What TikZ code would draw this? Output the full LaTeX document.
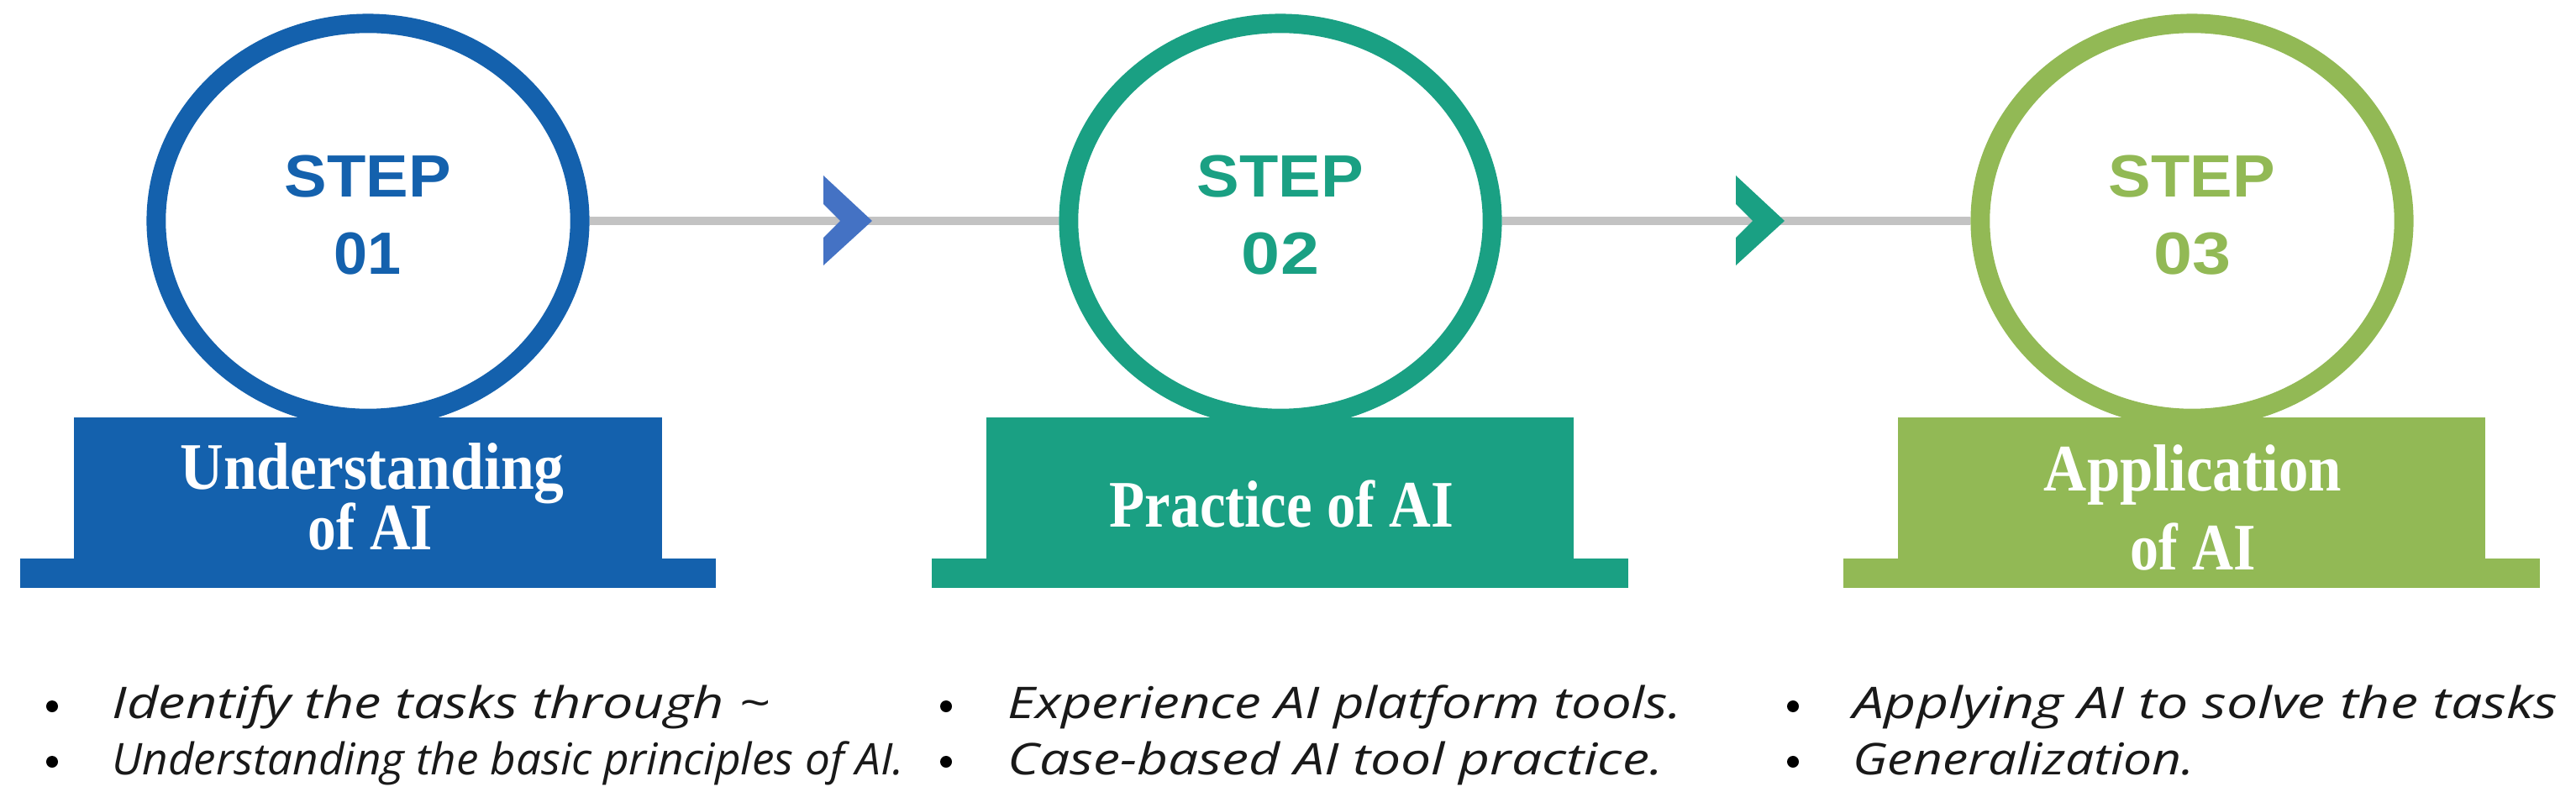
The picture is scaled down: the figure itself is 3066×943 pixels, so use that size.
\documentclass[tikz,border=0pt]{standalone}
\usepackage{fontspec}
\usepackage{graphicx}
\usetikzlibrary{shapes.geometric}
\setmainfont{Liberation Serif}
\newfontfamily\stepfont{Liberation Sans}
\newfontfamily\bulfont{Open Sans}
\definecolor{cblue}{HTML}{1461AD}
\definecolor{cteal}{HTML}{1AA083}
\definecolor{cgreen}{HTML}{92B955}
\definecolor{chevblue}{HTML}{4472C4}
\definecolor{lgrey}{HTML}{C3C3C3}
\newcommand\fitw[2]{\resizebox{#1cm}{\height}{#2}}
\begin{document}
\begin{tikzpicture}[x=0.01cm,y=-0.01cm,
  ring/.style={ellipse, draw=#1, fill=white, line width=6.5pt,
    minimum width=5.04cm, minimum height=4.70cm, inner sep=0pt},
  plate/.style={rectangle, fill=#1, minimum width=6.99cm, minimum height=1.70cm,
    inner sep=0pt, outer sep=0pt},
  foot/.style={rectangle, fill=#1, minimum width=8.28cm, minimum height=0.35cm,
    inner sep=0pt, outer sep=0pt},
  steptxt/.style={anchor=base, inner sep=0pt, text=#1,
    font=\stepfont\bfseries\fontsize{20.2pt}{22pt}\selectfont},
  lbl/.style={anchor=base, inner sep=0pt, text=white,
    font=\bfseries\fontsize{22.5pt}{24pt}\selectfont},
  bul/.style={circle, fill=black, minimum size=0.14cm, inner sep=0pt},
  bultxt/.style={anchor=base west, inner sep=0pt, text=black!90,
    font=\bulfont\itshape\fontsize{14.8pt}{16pt}\selectfont},
  link/.style={draw=lgrey, line width=2.6pt},
  chev/.style={fill=#1}
]
\useasboundingbox[fill=white] (0,0) rectangle (3066,943);

% rings (step circles)
\node[ring=cblue]  (c1) at (438,263) {};
\node[ring=cteal]  (c2) at (1524,263) {};
\node[ring=cgreen] (c3) at (2609,263) {};

% connectors
\draw[link] (c1) -- (c2);
\draw[link] (c2) -- (c3);

% chevrons
\coordinate (a1) at (1000,263);
\coordinate (a2) at (2086,263);
\fill[chev=chevblue] (a1) -- ++(-20,-20) -- ++(0,-34) -- ++(58,54) -- ++(-58,53) -- ++(0,-33) -- cycle;
\fill[chev=cteal] (a2) -- ++(-20,-20) -- ++(0,-34) -- ++(58,54) -- ++(-58,53) -- ++(0,-33) -- cycle;

% step texts
\node[steptxt=cblue]  (s1) at (438,234.5) {\fitw{1.98}{STEP}};
\node[steptxt=cblue]  (n1) at (438,326.5) {\fitw{0.80}{01}};
\node[steptxt=cteal]  (s2) at (1524,234.5) {\fitw{1.98}{STEP}};
\node[steptxt=cteal]  (n2) at (1524,326.5) {\fitw{0.92}{02}};
\node[steptxt=cgreen] (s3) at (2609,234.5) {\fitw{1.98}{STEP}};
\node[steptxt=cgreen] (n3) at (2609,326.5) {\fitw{0.92}{03}};

% plates
\node[plate=cblue]  (p1) at (438,582) {};
\node[foot=cblue]   (f1) at (438,682.5) {};
\node[plate=cteal]  (p2) at (1523.5,582) {};
\node[foot=cteal]   (f2) at (1523.5,682.5) {};
\node[plate=cgreen] (p3) at (2608.5,582) {};
\node[foot=cgreen]  (f3) at (2608.5,682.5) {};

% plate labels
\node[lbl] (t1a) at (443,583) {\fitw{4.57}{Understanding}};
\node[lbl] (t1b) at (441,655) {\fitw{1.48}{of AI}};
\node[lbl] (t2a) at (1525.5,627) {\fitw{4.09}{Practice of AI}};
\node[lbl] (t3a) at (2610,585) {\fitw{3.54}{Application}};
\node[lbl] (t3b) at (2610,679) {\fitw{1.49}{of AI}};

% bullets
\node[bul] (b11) at (62,841) {};
\node[bul] (b12) at (62,907) {};
\node[bul] (b21) at (1126,841) {};
\node[bul] (b22) at (1126,907) {};
\node[bul] (b31) at (2134,841) {};
\node[bul] (b32) at (2134,907) {};

\node[bultxt] (u11) at (133,855) {\fitw{7.82}{Identify the tasks through \textasciitilde}};
\node[bultxt] (u12) at (133,922) {\fitw{9.42}{Understanding the basic principles of AI.}};
\node[bultxt] (u21) at (1199,855) {\fitw{8.01}{Experience AI platform tools.}};
\node[bultxt] (u22) at (1199,922) {\fitw{7.79}{Case-based AI tool practice.}};
\node[bultxt] (u31) at (2205,855) {\fitw{8.38}{Applying AI to solve the tasks}};
\node[bultxt] (u32) at (2205,922) {\fitw{4.06}{Generalization.}};
\end{tikzpicture}
\end{document}
